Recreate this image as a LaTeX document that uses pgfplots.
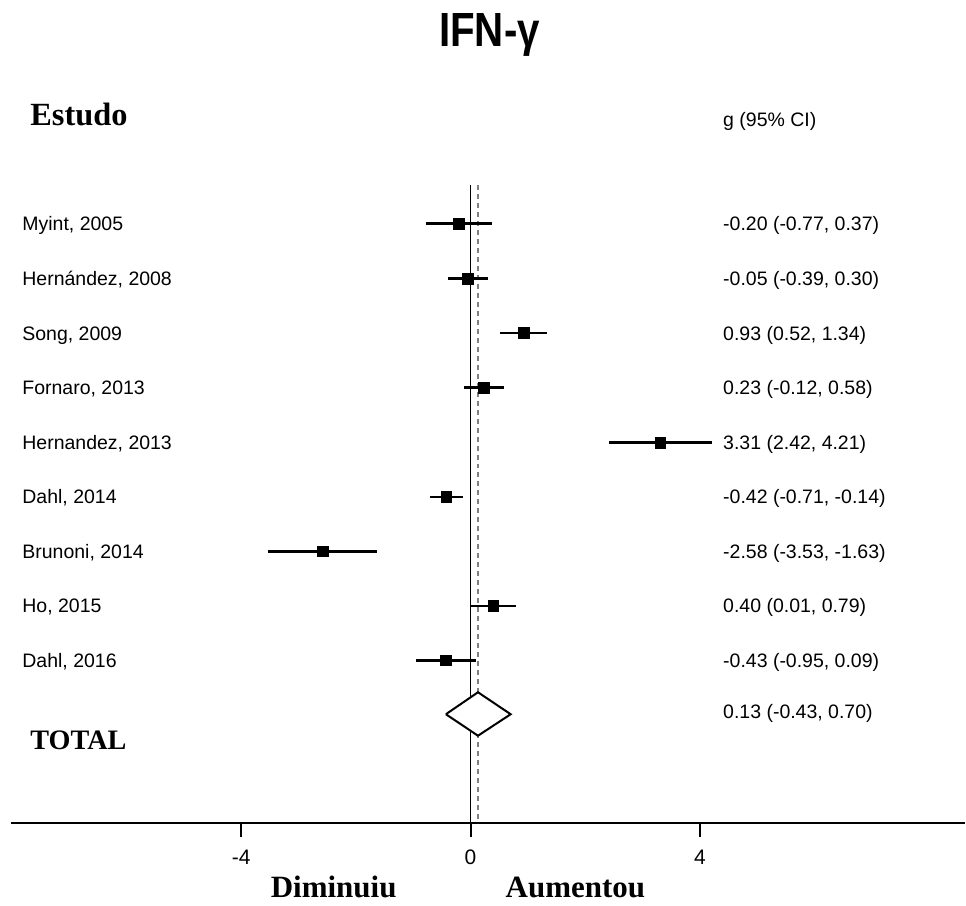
\documentclass[border=0pt]{standalone}
\usepackage{pgfplots}
\pgfplotsset{compat=1.18}
\usepackage{pgfplotstable}
\usepackage{graphicx}
\usepackage{fontspec}
\setmainfont{Liberation Sans}
\newfontfamily\serifb{Liberation Serif}

\pgfplotstableread{
g y ep em
-0.20 600 0.57 0.57
-0.05 545 0.35 0.34
0.93 490.5 0.41 0.41
0.23 436 0.35 0.35
3.31 381 0.90 0.89
-0.42 326.5 0.28 0.29
-2.58 272 0.95 0.95
0.40 217.5 0.39 0.39
-0.43 163 0.52 0.52
}\studies

\begin{document}
\begin{tikzpicture}
\begin{axis}[
  scale only axis,
  width=477.5pt, height=453pt,
  xmin=-8.014, xmax=8.6237,
  ymin=-82, ymax=824,
  clip=false,
  axis x line*=middle,
  axis y line=none,
  x axis line style={line width=1pt},
  xtick={-4,0,4},
  ytick=\empty,
  tick align=outside,
  major tick length=7pt,
  xtick style={line width=1pt, black},
  xticklabel style={anchor=center, yshift=-10pt, font=\fontsize{10.5}{12}\selectfont},
  /pgf/number format/assume math mode=true,
]
\path (axis cs:-8.206,-82) rectangle (axis cs:8.6237,824);
% reference lines
\addplot[black, line width=0.5pt] coordinates {(0,639) (0,0)};
\addplot[gray, line width=0.6pt, dash pattern=on 2.5pt off 2pt] coordinates {(0.13,639) (0.13,0)};
% studies
\addplot[only marks, mark=square*, mark size=2.7pt, black,
  error bars/.cd, x dir=both, x explicit, error mark=none,
  error bar style={line width=1.3pt, black}]
  table[x=g, y=y, x error plus=ep, x error minus=em]{\studies};
% total diamond
\addplot[black, line width=1pt, fill=white] coordinates {(-0.43,109) (0.13,131) (0.70,109) (0.13,87.5) (-0.43,109)};

% texts
\node[anchor=base, inner sep=0pt, font=\bfseries\fontsize{24}{28}\selectfont] at (axis cs:0.331,777) {\scalebox{0.84}[1]{IFN-γ}};
\node[anchor=base west, inner sep=0pt, font=\serifb\bfseries\fontsize{16.2}{19}\selectfont] at (axis cs:-7.683,698) {Estudo};
\node[anchor=base west, inner sep=0pt, font=\fontsize{9.75}{11}\selectfont] at (axis cs:4.40,697) {g (95\% CI)};
\begin{scope}[every node/.style={anchor=base west, inner sep=0pt, font=\fontsize{9.75}{11}\selectfont}]
\node at (axis cs:-7.822,593) {Myint, 2005};
\node at (axis cs:-7.822,538) {Hernández, 2008};
\node at (axis cs:-7.822,483.5) {Song, 2009};
\node at (axis cs:-7.822,429) {Fornaro, 2013};
\node at (axis cs:-7.822,374) {Hernandez, 2013};
\node at (axis cs:-7.822,319.5) {Dahl, 2014};
\node at (axis cs:-7.822,265) {Brunoni, 2014};
\node at (axis cs:-7.822,210.5) {Ho, 2015};
\node at (axis cs:-7.822,156) {Dahl, 2016};
\node at (axis cs:4.40,593) {-0.20 (-0.77, 0.37)};
\node at (axis cs:4.40,538) {-0.05 (-0.39, 0.30)};
\node at (axis cs:4.40,483.5) {0.93 (0.52, 1.34)};
\node at (axis cs:4.40,429) {0.23 (-0.12, 0.58)};
\node at (axis cs:4.40,374) {3.31 (2.42, 4.21)};
\node at (axis cs:4.40,319.5) {-0.42 (-0.71, -0.14)};
\node at (axis cs:4.40,265) {-2.58 (-3.53, -1.63)};
\node at (axis cs:4.40,210.5) {0.40 (0.01, 0.79)};
\node at (axis cs:4.40,156) {-0.43 (-0.95, 0.09)};
\node at (axis cs:4.40,105) {0.13 (-0.43, 0.70)};
\end{scope}
\node[anchor=base west, inner sep=0pt, font=\serifb\bfseries\fontsize{14.1}{17}\selectfont] at (axis cs:-7.683,74) {TOTAL};
\node[anchor=base, inner sep=0pt, font=\serifb\bfseries\fontsize{15.5}{18}\selectfont] at (axis cs:-2.387,-74) {Diminuiu};
\node[anchor=base, inner sep=0pt, font=\serifb\bfseries\fontsize{15.5}{18}\selectfont] at (axis cs:1.829,-74) {Aumentou};
\end{axis}
\end{tikzpicture}
\end{document}
